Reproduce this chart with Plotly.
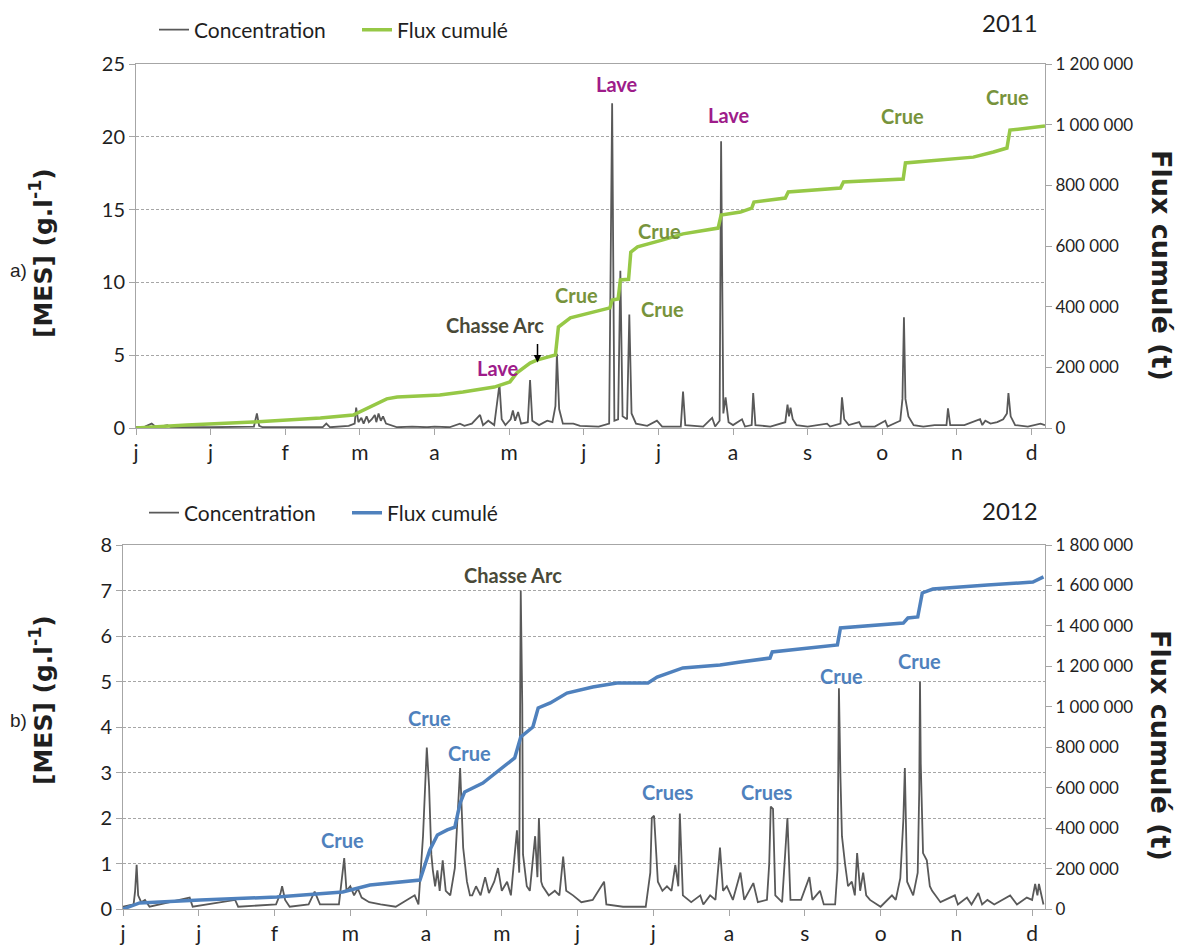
import plotly.graph_objects as go

# month index (0 = start of axis, 1 unit = 1 month)
month_ticks = [0, 1, 2, 3, 4, 5, 6, 7, 8, 9, 10, 11, 12]
month_labels = ['j', 'j', 'f', 'm', 'a', 'm', 'j', 'j', 'a', 's', 'o', 'n', 'd']

# ---- 2011 ----
conc_2011_x = [0.00, 0.12, 0.21, 0.27, 0.42, 0.47, 1.00, 1.58, 1.62, 1.65, 1.70, 2.50, 2.55, 2.60,
               2.85, 2.93, 2.95, 2.98, 3.02, 3.05, 3.09, 3.12, 3.16, 3.20, 3.22, 3.25, 3.28, 3.31,
               3.35, 3.40, 3.50, 3.70, 3.90, 4.00, 4.20, 4.34, 4.40, 4.50, 4.61, 4.65, 4.72, 4.80,
               4.87, 4.90, 4.95, 5.02, 5.05, 5.08, 5.12, 5.16, 5.25, 5.28, 5.31, 5.40, 5.51, 5.58,
               5.62, 5.64, 5.67, 5.72, 5.86, 5.95, 6.20, 6.34, 6.38, 6.41, 6.46, 6.49, 6.52, 6.58,
               6.61, 6.64, 6.70, 6.85, 6.98, 7.05, 7.30, 7.33, 7.36, 7.60, 7.72, 7.76, 7.82, 7.84,
               7.87, 7.90, 7.94, 8.00, 8.12, 8.16, 8.25, 8.27, 8.30, 8.50, 8.70, 8.73, 8.75, 8.77,
               8.80, 8.85, 9.00, 9.26, 9.30, 9.44, 9.46, 9.49, 9.55, 9.69, 9.72, 9.90, 10.04, 10.07,
               10.24, 10.27, 10.29, 10.31, 10.35, 10.42, 10.55, 10.70, 10.86, 10.88, 10.91, 11.10,
               11.31, 11.34, 11.38, 11.45, 11.54, 11.62, 11.67, 11.69, 11.72, 11.78, 11.95, 12.12, 12.18]
conc_2011_y = [0.05, 0.1, 0.3, 0.05, 0.2, 0.05, 0.05, 0.1, 1.0, 0.15, 0.05, 0.05, 0.3, 0.05,
               0.15, 0.3, 1.4, 0.4, 0.7, 0.3, 0.8, 0.4, 0.6, 0.9, 0.4, 1.0, 0.5, 0.8,
               0.3, 0.2, 0.05, 0.1, 0.05, 0.1, 0.05, 0.3, 0.15, 0.3, 0.9, 0.2, 0.5, 0.2,
               3.0, 0.6, 0.2, 0.6, 1.2, 0.5, 1.1, 0.3, 0.4, 3.3, 0.5, 0.2, 0.5, 0.4,
               1.5, 5.1, 1.3, 0.3, 0.3, 0.15, 0.1, 0.3, 22.3, 0.5, 0.6, 10.8, 0.8, 0.6,
               7.8, 1.0, 0.3, 0.15, 0.5, 0.1, 0.1, 2.5, 0.2, 0.1, 0.7, 0.1, 0.5, 19.7,
               1.0, 2.1, 0.4, 0.2, 0.6, 0.1, 0.2, 2.4, 0.2, 0.1, 0.4, 1.6, 0.8, 1.4,
               0.6, 0.2, 0.1, 0.3, 0.1, 0.3, 2.1, 0.6, 0.2, 0.4, 0.1, 0.1, 0.5, 0.1,
               0.5, 2.0, 7.6, 2.0, 0.8, 0.2, 0.1, 0.2, 0.2, 1.35, 0.2, 0.2,
               0.6, 0.2, 0.5, 0.3, 0.4, 0.6, 1.0, 2.4, 0.8, 0.2, 0.1, 0.3, 0.2]

flux_2011_x = [0.00, 0.68, 1.57, 2.47, 2.91, 3.10, 3.36, 3.50, 4.07, 4.38, 4.80, 5.01, 5.10, 5.28,
               5.37, 5.62, 5.66, 5.82, 6.35, 6.38, 6.46, 6.49, 6.60, 6.63, 6.72, 7.06, 7.33, 7.80,
               7.84, 8.10, 8.25, 8.28, 8.70, 8.74, 9.44, 9.48, 10.28, 10.31, 11.22, 11.49, 11.67,
               11.71, 12.18]
flux_2011_y = [0, 10000, 20000, 33000, 43000, 65000, 96000, 102000, 109000, 119000, 135000, 152000,
               181000, 214000, 224000, 241000, 333000, 363000, 396000, 422000, 425000, 488000,
               490000, 580000, 597000, 620000, 640000, 659000, 702000, 712000, 725000, 745000,
               758000, 778000, 791000, 811000, 821000, 874000, 893000, 910000, 923000, 982000, 996000]

# ---- 2012 ----
conc_2012_x = [0.00, 0.14, 0.16, 0.18, 0.20, 0.24, 0.29, 0.35, 0.88, 0.92, 1.48, 1.52, 2.02, 2.08,
               2.10, 2.14, 2.20, 2.45, 2.53, 2.60, 2.85, 2.92, 2.95, 3.00, 3.05, 3.10, 3.15, 3.25,
               3.40, 3.60, 3.85, 3.90, 3.96, 4.01, 4.04, 4.07, 4.09, 4.12, 4.15, 4.18, 4.22, 4.26,
               4.32, 4.38, 4.45, 4.49, 4.54, 4.58, 4.61, 4.66, 4.72, 4.78, 4.83, 4.90, 4.95, 5.00,
               5.07, 5.12, 5.20, 5.23, 5.25, 5.27, 5.28, 5.33, 5.37, 5.44, 5.47, 5.49, 5.52, 5.54,
               5.62, 5.70, 5.76, 5.81, 5.85, 5.94, 6.05, 6.20, 6.35, 6.38, 6.60, 6.90, 6.96, 6.98,
               7.01, 7.04, 7.06, 7.12, 7.18, 7.24, 7.29, 7.33, 7.35, 7.39, 7.50, 7.62, 7.66, 7.75,
               7.82, 7.88, 7.92, 7.97, 8.05, 8.15, 8.20, 8.32, 8.38, 8.50, 8.53, 8.55, 8.58, 8.61,
               8.70, 8.77, 8.81, 8.95, 9.06, 9.10, 9.20, 9.25, 9.40, 9.43, 9.45, 9.47, 9.49, 9.53,
               9.57, 9.62, 9.66, 9.69, 9.73, 9.77, 9.81, 9.86, 10.00, 10.15, 10.20, 10.26, 10.30,
               10.32, 10.35, 10.43, 10.49, 10.51, 10.52, 10.53, 10.56, 10.61, 10.65, 10.68, 10.79,
               10.98, 11.02, 11.14, 11.20, 11.29, 11.34, 11.41, 11.50, 11.71, 11.80, 11.93, 12.00,
               12.04, 12.07, 12.09, 12.15]
conc_2012_y = [0.05, 0.1, 0.4, 0.97, 0.3, 0.15, 0.2, 0.05, 0.25, 0.05, 0.2, 0.05, 0.1, 0.35,
               0.5, 0.2, 0.05, 0.1, 0.38, 0.1, 0.1, 1.12, 0.4, 0.5, 0.3, 0.45, 0.25, 0.15,
               0.1, 0.05, 0.3, 0.1, 1.6, 3.55, 2.7, 1.2, 0.85, 0.5, 0.85, 0.4, 1.07, 0.4,
               0.3, 0.9, 3.1, 1.35, 0.6, 0.3, 0.3, 0.5, 0.3, 0.7, 0.35, 0.6, 0.9, 0.4,
               0.6, 0.3, 1.73, 0.8, 7.0, 4.5, 1.2, 0.5, 0.4, 1.6, 0.7, 2.0, 0.6, 0.5,
               0.3, 0.4, 0.3, 1.15, 0.4, 0.3, 0.15, 0.2, 0.6, 0.1, 0.05, 0.05, 0.8, 2.0,
               2.05, 1.0, 0.6, 0.4, 0.5, 0.4, 0.97, 0.5, 2.1, 0.3, 0.15, 0.3, 0.1, 0.3,
               0.2, 1.35, 0.4, 0.5, 0.2, 0.8, 0.2, 0.57, 0.15, 0.2, 1.0, 2.25, 2.2, 0.3,
               0.15, 2.0, 0.2, 0.2, 0.7, 0.2, 0.4, 0.1, 0.1, 0.85, 4.85, 2.9, 1.6, 1.0,
               0.5, 0.6, 0.3, 1.23, 0.4, 0.8, 0.3, 0.2, 0.05, 0.3, 0.2, 0.68, 1.95,
               3.1, 0.6, 0.3, 0.8, 2.6, 5.0, 3.2, 1.23, 1.07, 0.5, 0.4, 0.15,
               0.3, 0.1, 0.25, 0.1, 0.35, 0.1, 0.2, 0.1, 0.3, 0.1, 0.25, 0.2,
               0.55, 0.3, 0.55, 0.1]

flux_2012_x = [0.00, 0.22, 1.02, 2.03, 2.90, 3.26, 3.92, 4.05, 4.15, 4.28, 4.38, 4.45, 4.51, 4.75,
               5.17, 5.25, 5.41, 5.48, 5.64, 5.86, 6.20, 6.52, 6.93, 7.05, 7.39, 7.88, 8.15, 8.54,
               8.57, 9.43, 9.47, 10.30, 10.36, 10.49, 10.55, 10.69, 11.41, 12.01, 12.15]
flux_2012_y = [0, 30000, 45000, 59000, 84000, 119000, 143000, 292000, 366000, 391000, 405000,
               524000, 579000, 623000, 747000, 851000, 900000, 994000, 1019000, 1068000, 1098000,
               1118000, 1118000, 1147000, 1192000, 1207000, 1221000, 1241000, 1271000, 1306000,
               1390000, 1414000, 1439000, 1444000, 1563000, 1582000, 1602000, 1617000, 1642000]

W, H = 1187, 949
FONT = 'Lato'
GRAY = '#595959'
GREEN = '#96C846'
BLUE = '#4F81BD'
CRUE_GREEN = '#77933C'
LAVE = '#9E1C8A'
CHASSE = '#4A4A38'
TXT = '#1f1f1f'


def px(x):
    return x / W


def py(y):
    return 1 - y / H


fig = go.Figure()
fig.add_trace(go.Scatter(x=conc_2011_x, y=conc_2011_y, mode='lines', name='Concentration',
                         line=dict(color=GRAY, width=1.8), xaxis='x', yaxis='y', legend='legend'))
fig.add_trace(go.Scatter(x=flux_2011_x, y=flux_2011_y, mode='lines', name='Flux cumulé',
                         line=dict(color=GREEN, width=3.5), xaxis='x', yaxis='y2', legend='legend'))
fig.add_trace(go.Scatter(x=conc_2012_x, y=conc_2012_y, mode='lines', name='Concentration',
                         line=dict(color=GRAY, width=1.8), xaxis='x2', yaxis='y3', legend='legend2'))
fig.add_trace(go.Scatter(x=flux_2012_x, y=flux_2012_y, mode='lines', name='Flux cumulé',
                         line=dict(color=BLUE, width=3.5), xaxis='x2', yaxis='y4', legend='legend2'))

axis_line = '#A6A6A6'
xcommon = dict(tickvals=month_ticks, ticktext=month_labels, showline=True, linecolor=axis_line,
               mirror=True, ticks='outside', ticklen=6, tickcolor=axis_line, showgrid=False,
               zeroline=False, automargin=False, tickfont=dict(family=FONT, size=21, color=TXT))
ycommon = dict(showline=True, linecolor=axis_line, ticks='outside', ticklen=6, tickcolor=axis_line,
               gridcolor='#A6A6A6', griddash='3px,2px', gridwidth=1, zeroline=False,
               automargin=False, tickfont=dict(family=FONT, size=20, color=TXT))
rcommon = dict(showline=True, linecolor=axis_line, ticks='outside', ticklen=6, tickcolor=axis_line,
               showgrid=False, zeroline=False, tickformat=',d', automargin=False,
               tickfont=dict(family=FONT, size=17, color=TXT), side='right')

legend_style = dict(orientation='h', xanchor='left', yanchor='middle',
                    font=dict(family=FONT, size=21, color=TXT), bgcolor='rgba(0,0,0,0)',
                    entrywidth=158, tracegroupgap=0)

fig.update_layout(
    width=W, height=H, margin=dict(l=0, r=0, t=0, b=0, autoexpand=False),
    paper_bgcolor='white', plot_bgcolor='white',
    separators=', ',
    font=dict(family=FONT, color=TXT),
    xaxis=dict(domain=[px(136), px(1045)], range=[0, 12.18], anchor='y', **xcommon),
    yaxis=dict(domain=[py(428), py(64)], range=[0, 25], dtick=5, anchor='x', **ycommon),
    yaxis2=dict(range=[0, 1200000], dtick=200000, overlaying='y', anchor='x', **rcommon),
    xaxis2=dict(domain=[px(123), px(1045)], range=[0, 12.17], anchor='y3', **xcommon),
    yaxis3=dict(domain=[py(909), py(545)], range=[0, 8], dtick=1, anchor='x2', **ycommon),
    yaxis4=dict(range=[0, 1800000], dtick=200000, overlaying='y3', anchor='x2', **rcommon),
    legend=dict(x=px(154), y=py(30), **legend_style),
    legend2=dict(x=px(144), y=py(513), **legend_style),
)

ann = []


def label(text, x, y, color, xref='x', yref='y', size=20):
    ann.append(dict(text='<b>%s</b>' % text, x=x, y=y, xref=xref, yref=yref, showarrow=False,
                    font=dict(family=FONT, size=size, color=color)))


# 2011 events
label('Lave', 6.45, 23.6, LAVE)
label('Lave', 7.95, 21.5, LAVE)
label('Crue', 10.27, 21.4, CRUE_GREEN)
label('Crue', 11.68, 22.7, CRUE_GREEN)
label('Crue', 7.02, 13.5, CRUE_GREEN)
label('Crue', 5.90, 9.1, CRUE_GREEN)
label('Crue', 7.05, 8.2, CRUE_GREEN)
label('Chasse Arc', 4.81, 7.1, CHASSE)
label('Lave', 4.85, 4.1, LAVE)
ann.append(dict(x=5.38, y=4.5, xref='x', yref='y', ax=0, ay=-20, showarrow=True, arrowhead=2,
                arrowsize=1, arrowwidth=1.5, arrowcolor='black', text=''))

# 2012 events
label('Chasse Arc', 5.15, 7.34, CHASSE, 'x2', 'y3')
label('Crue', 4.05, 4.2, BLUE, 'x2', 'y3')
label('Crue', 4.57, 3.43, BLUE, 'x2', 'y3')
label('Crue', 2.90, 1.52, BLUE, 'x2', 'y3')
label('Crues', 7.19, 2.57, BLUE, 'x2', 'y3')
label('Crues', 8.50, 2.57, BLUE, 'x2', 'y3')
label('Crue', 9.49, 5.12, BLUE, 'x2', 'y3')
label('Crue', 10.51, 5.45, BLUE, 'x2', 'y3')

# years, panel tags and axis titles
for tag, year, ty, yy, my, fy in [('a)', '2011', 270, 22, 253, 265), ('b)', '2012', 720, 510, 700, 745)]:
    ann.append(dict(text=year, x=px(1040), y=py(yy), xref='paper', yref='paper', xanchor='right',
                    yanchor='middle', showarrow=False, font=dict(family=FONT, size=24, color=TXT)))
    ann.append(dict(text=tag, x=px(8), y=py(ty), xref='paper', yref='paper', xanchor='left',
                    yanchor='middle', showarrow=False,
                    font=dict(family='Liberation Sans', size=19, color=TXT)))
    ann.append(dict(text='<b>[MES] (g.l<sup>-1</sup>)</b>', x=px(41), y=py(my), xref='paper',
                    yref='paper', xanchor='center', yanchor='middle', textangle=-90,
                    showarrow=False, font=dict(family='DejaVu Sans', size=25, color=TXT)))
    ann.append(dict(text='<b>Flux cumulé (t)</b>', x=px(1161), y=py(fy), xref='paper',
                    yref='paper', xanchor='center', yanchor='middle', textangle=90,
                    showarrow=False, font=dict(family='DejaVu Sans', size=27, color=TXT)))

fig.update_layout(annotations=ann)
fig.write_html("out.html", config={'displayModeBar': False},
               post_script="document.body.style.margin='0';")
